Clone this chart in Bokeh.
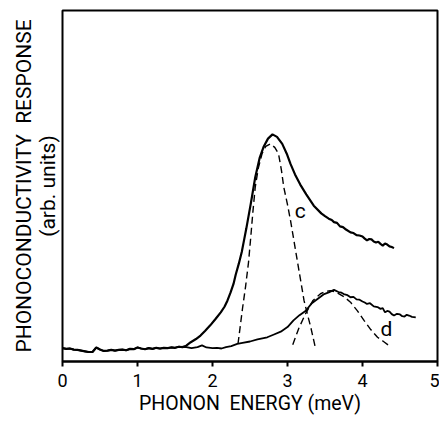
from bokeh.plotting import figure
from bokeh.models import Label, FixedTicker, LinearAxis
from bokeh.embed import file_html
from bokeh.resources import INLINE

# ---- data (response in arbitrary units) ----
energy_base = [0.00, 0.05, 0.10, 0.15, 0.20, 0.25, 0.30, 0.35, 0.40, 0.45, 0.50,
               0.55, 0.60, 0.65, 0.70, 0.75, 0.80, 0.85, 0.90, 0.95, 1.00, 1.05,
               1.10, 1.15, 1.20, 1.25, 1.30, 1.35, 1.40, 1.45, 1.50, 1.55, 1.60]
resp_base = [0.38, 0.36, 0.37, 0.34, 0.33, 0.31, 0.29, 0.27, 0.27, 0.40, 0.34,
             0.30, 0.31, 0.33, 0.31, 0.33, 0.34, 0.32, 0.36, 0.35, 0.40, 0.37,
             0.35, 0.38, 0.36, 0.39, 0.37, 0.39, 0.38, 0.40, 0.39, 0.42, 0.41]

energy_c = [1.65, 1.71, 1.78, 1.84, 1.90, 1.97, 2.04, 2.11, 2.16, 2.20, 2.24,
            2.28, 2.31, 2.35, 2.39, 2.42, 2.45, 2.51, 2.57, 2.63, 2.68, 2.74,
            2.80, 2.86, 2.93, 2.99, 3.04, 3.10, 3.17, 3.25, 3.35, 3.45, 3.50,
            3.55, 3.59, 3.62, 3.66, 3.70, 3.74, 3.78, 3.84, 3.88, 3.92, 3.96,
            4.00, 4.03, 4.06, 4.09, 4.12, 4.15, 4.18, 4.21, 4.24, 4.27, 4.30,
            4.33, 4.36, 4.39, 4.42]
resp_c = [0.45, 0.55, 0.64, 0.74, 0.87, 1.03, 1.21, 1.40, 1.56, 1.74, 1.96,
          2.21, 2.48, 2.78, 3.12, 3.45, 3.78, 4.49, 5.25, 5.81, 6.11, 6.35,
          6.47, 6.40, 6.20, 5.92, 5.63, 5.33, 5.04, 4.76, 4.44, 4.22, 4.14,
          4.07, 4.03, 3.97, 3.95, 3.85, 3.83, 3.76, 3.68, 3.66, 3.60, 3.59,
          3.56, 3.50, 3.45, 3.49, 3.48, 3.42, 3.39, 3.41, 3.35, 3.30, 3.36,
          3.33, 3.28, 3.26, 3.23]

energy_d = [1.65, 1.72, 1.80, 1.86, 1.92, 2.00, 2.06, 2.12, 2.18, 2.25, 2.33,
            2.40, 2.50, 2.60, 2.73, 2.82, 2.91, 3.00, 3.08, 3.16, 3.24, 3.32,
            3.40, 3.48, 3.55, 3.62, 3.68, 3.72, 3.75, 3.80, 3.84, 3.88, 3.92,
            3.96, 4.00, 4.03, 4.06, 4.10, 4.15, 4.20, 4.24, 4.27, 4.30, 4.33,
            4.36, 4.39, 4.42, 4.46, 4.50, 4.53, 4.56, 4.59, 4.62, 4.66, 4.71]
resp_d = [0.41, 0.38, 0.41, 0.46, 0.40, 0.38, 0.39, 0.37, 0.41, 0.44, 0.50,
          0.53, 0.57, 0.63, 0.69, 0.77, 0.85, 0.98, 1.17, 1.32, 1.44, 1.65,
          1.78, 1.91, 1.97, 2.04, 1.98, 1.96, 1.92, 1.89, 1.83, 1.84, 1.77,
          1.76, 1.71, 1.68, 1.64, 1.66, 1.57, 1.55, 1.50, 1.52, 1.40, 1.44,
          1.42, 1.35, 1.31, 1.36, 1.34, 1.29, 1.28, 1.33, 1.31, 1.27, 1.26]

energy_fit_c = [2.34, 2.40, 2.44, 2.48, 2.51, 2.54, 2.57, 2.61, 2.66, 2.71, 2.77,
                2.83, 2.88, 2.92, 2.95, 3.00, 3.04, 3.09, 3.13, 3.18, 3.22, 3.27,
                3.31, 3.37]
resp_fit_c = [0.50, 1.51, 2.12, 2.82, 3.54, 4.30, 4.97, 5.50, 5.92, 6.13, 6.20,
              6.10, 5.92, 5.44, 4.97, 4.47, 4.02, 3.39, 2.88, 2.25, 1.74, 1.31,
              0.98, 0.41]

energy_fit_d = [3.07, 3.15, 3.24, 3.34, 3.44, 3.50, 3.57, 3.65, 3.75, 3.84, 3.93,
                4.02, 4.11, 4.20, 4.28, 4.35]
resp_fit_d = [0.48, 0.94, 1.36, 1.74, 1.93, 1.99, 2.02, 1.97, 1.85, 1.69, 1.45,
              1.17, 0.91, 0.69, 0.57, 0.46]

x_ticks = [0, 1, 2, 3, 4, 5]
curve_labels = ["c", "d"]
curve_label_x = [3.17, 4.32]
curve_label_y = [4.30, 0.94]

FONT = "Roboto"
NBSP2 = "\u00a0\u00a0"

p = figure(width=439, height=423, x_range=(0, 5), y_range=(0, 10),
           output_backend="svg", toolbar_location=None,
           min_border_left=62, min_border_right=2, min_border_top=10,
           min_border_bottom=62)
p.grid.visible = False
p.background_fill_color = "white"
p.border_fill_color = "white"
p.outline_line_color = "black"
p.outline_line_width = 2

# x axis
ax = p.xaxis[0]
ax.ticker = FixedTicker(ticks=x_ticks)
ax.major_tick_in = 0
ax.major_tick_out = 5
ax.major_tick_line_width = 2
ax.minor_tick_line_color = None
ax.axis_line_width = 2
ax.major_label_standoff = 7
ax.major_label_text_font = FONT
ax.major_label_text_font_size = "18px"
ax.major_label_text_color = "black"
ax.axis_label = "PHONON" + NBSP2 + "ENERGY (meV)"
ax.axis_label_standoff = 2
ax.axis_label_text_font = FONT
ax.axis_label_text_font_size = "19.5px"
ax.axis_label_text_font_style = "normal"
ax.axis_label_text_color = "black"

# y axes (labels only, no ticks)
def style_y(a, label, standoff):
    a.ticker = FixedTicker(ticks=[])
    a.axis_line_color = None
    a.major_tick_line_color = None
    a.minor_tick_line_color = None
    a.major_label_text_font_size = "0px"
    a.axis_label = label
    a.axis_label_standoff = standoff
    a.axis_label_text_font = FONT
    a.axis_label_text_font_size = "21px"
    a.axis_label_text_font_style = "normal"
    a.axis_label_text_color = "black"

style_y(p.yaxis[0], "(arb. units)", 3)
outer = LinearAxis()
style_y(outer, "PHONOCONDUCTIVITY" + NBSP2 + "RESPONSE", -3)
p.add_layout(outer, "left")

# curves
p.line(energy_base + energy_c, resp_base + resp_c, line_color="black", line_width=2.2)
p.line(energy_base + energy_d, resp_base + resp_d, line_color="black", line_width=1.8)
p.line(energy_fit_c, resp_fit_c, line_color="black", line_width=1.4, line_dash="7 4")
p.line(energy_fit_d, resp_fit_d, line_color="black", line_width=1.4, line_dash="7 4")

for t, lx, ly in zip(curve_labels, curve_label_x, curve_label_y):
    p.add_layout(Label(x=lx, y=ly, text=t, text_font=FONT, text_font_size="21px",
                       text_align="center", text_baseline="middle", text_color="black"))

open("out.html", "w").write(file_html(p, INLINE))
